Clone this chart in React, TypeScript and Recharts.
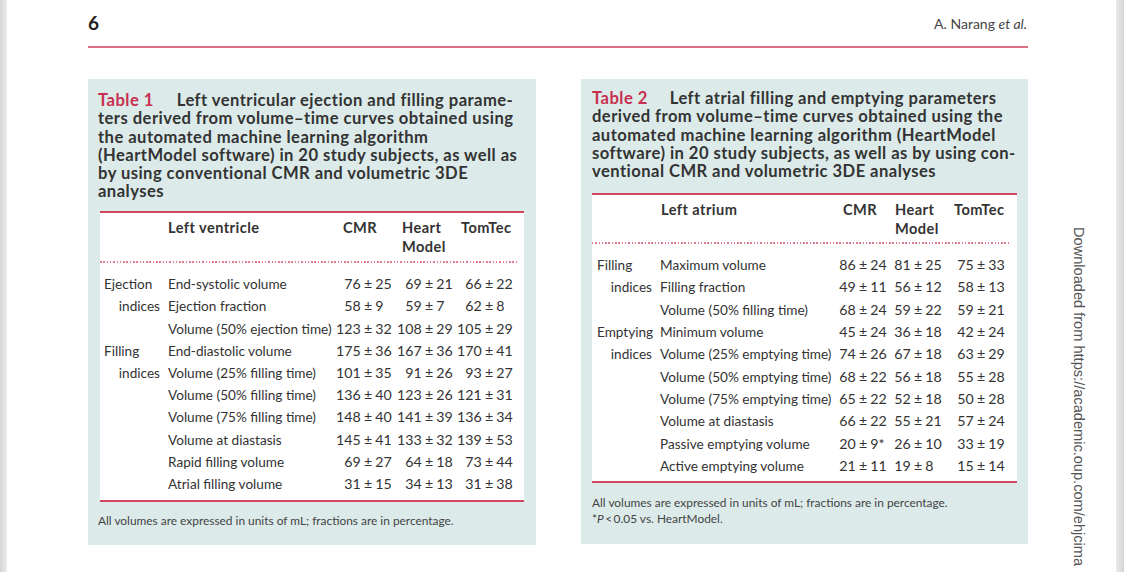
import React from 'react';
import { ScatterChart, Scatter, XAxis, YAxis } from 'recharts';

// ---------- Table 1 data ----------
const t1Groups = ['Ejection', 'indices', '', 'Filling', 'indices', '', '', '', '', ''];
const t1Params = [
  'End-systolic volume',
  'Ejection fraction',
  'Volume (50% ejection time)',
  'End-diastolic volume',
  'Volume (25% filling time)',
  'Volume (50% filling time)',
  'Volume (75% filling time)',
  'Volume at diastasis',
  'Rapid filling volume',
  'Atrial filling volume',
];
const t1CmrMean = [76, 58, 123, 175, 101, 136, 148, 145, 69, 31];
const t1CmrSd = [25, 9, 32, 36, 35, 40, 40, 41, 27, 15];
const t1HmMean = [69, 59, 108, 167, 91, 123, 141, 133, 64, 34];
const t1HmSd = [21, 7, 29, 36, 26, 26, 39, 32, 18, 13];
const t1TtMean = [66, 62, 105, 170, 93, 121, 136, 139, 73, 31];
const t1TtSd = [22, 8, 29, 41, 27, 31, 34, 53, 44, 38];

// ---------- Table 2 data ----------
const t2Groups = ['Filling', 'indices', '', 'Emptying', 'indices', '', '', '', '', ''];
const t2Params = [
  'Maximum volume',
  'Filling fraction',
  'Volume (50% filling time)',
  'Minimum volume',
  'Volume (25% emptying time)',
  'Volume (50% emptying time)',
  'Volume (75% emptying time)',
  'Volume at diastasis',
  'Passive emptying volume',
  'Active emptying volume',
];
const t2CmrMean = [86, 49, 68, 45, 74, 68, 65, 66, 20, 21];
const t2CmrSd = [24, 11, 24, 24, 26, 22, 22, 22, 9, 11];
const t2CmrMark = ['', '', '', '', '', '', '', '', '*', ''];
const t2HmMean = [81, 56, 59, 36, 67, 56, 52, 55, 26, 19];
const t2HmSd = [25, 12, 22, 18, 18, 18, 18, 21, 10, 8];
const t2TtMean = [75, 58, 59, 42, 63, 55, 50, 57, 33, 15];
const t2TtSd = [33, 13, 21, 24, 29, 28, 28, 24, 19, 14];

const columnHeaders = ['CMR', 'Heart', 'TomTec'];

const t1TitleLines = [
  'ters derived from volume\u2013time curves obtained using',
  'the automated machine learning algorithm',
  '(HeartModel software) in 20 study subjects, as well as',
  'by using conventional CMR and volumetric 3DE',
  'analyses',
];
const t2TitleLines = [
  'derived from volume\u2013time curves obtained using the',
  'automated machine learning algorithm (HeartModel',
  'software) in 20 study subjects, as well as by using con-',
  'ventional CMR and volumetric 3DE analyses',
];

const FONT = 'Lato, "Open Sans", sans-serif';
const TEXT = '#333333';
const RED = '#c8304f';
const RULE = '#d2465f';
const BOX = '#dcebea';

type Row = {
  param: string;
  group: string;
  x: number;
  vals: { mean: number; sd: number; mark: string }[];
};

function buildRows(
  params: string[],
  groups: string[],
  means: number[][],
  sds: number[][],
  marks: string[][]
): Row[] {
  return params.map((p, i) => ({
    param: p,
    group: groups[i],
    x: 0,
    vals: means.map((m, c) => ({ mean: m[i], sd: sds[c][i], mark: marks[c] ? marks[c][i] || '' : '' })),
  }));
}

const t1Rows = buildRows(
  t1Params,
  t1Groups,
  [t1CmrMean, t1HmMean, t1TtMean],
  [t1CmrSd, t1HmSd, t1TtSd],
  [[], [], []]
);
const t2Rows = buildRows(
  t2Params,
  t2Groups,
  [t2CmrMean, t2HmMean, t2TtMean],
  [t2CmrSd, t2HmSd, t2TtSd],
  [t2CmrMark, [], []]
);

type Layout = {
  groupStart: number;
  groupEnd: number;
  paramX: number;
  pm: number[];
};

function renderRow(props: any, lay: Layout) {
  const { cx, cy, payload } = props;
  if (cx == null || cy == null) return <g />;
  const r: Row = payload;
  const by = cy + 5;
  const common = { fontFamily: FONT, fontSize: 13.6, fill: TEXT } as any;
  const num = { fontFamily: FONT, fontSize: 14.2, fill: TEXT } as any;
  return (
    <g>
      {r.group ? (
        <text
          {...common}
          x={r.group === 'indices' ? cx + lay.groupEnd : cx + lay.groupStart}
          y={by}
          textAnchor={r.group === 'indices' ? 'end' : 'start'}
        >
          {r.group}
        </text>
      ) : null}
      <text {...common} x={cx + lay.paramX} y={by}>
        {r.param}
      </text>
      {r.vals.map((v, c) => (
        <g key={c}>
          <text {...num} x={cx + lay.pm[c] - 7.2} y={by} textAnchor="end">
            {String(v.mean)}
          </text>
          <text {...num} x={cx + lay.pm[c]} y={by} textAnchor="middle">
            {'\u00b1'}
          </text>
          <text {...num} x={cx + lay.pm[c] + 7.2} y={by} textAnchor="start">
            {String(v.sd) + v.mark}
          </text>
        </g>
      ))}
    </g>
  );
}

function TableRows({
  rows,
  width,
  height,
  top,
  bottom,
  lay,
}: {
  rows: Row[];
  width: number;
  height: number;
  top: number;
  bottom: number;
  lay: Layout;
}) {
  return (
    <ScatterChart width={width} height={height} margin={{ top, bottom, left: 0, right: 0 }}>
      <XAxis type="number" dataKey="x" domain={[0, 1]} hide />
      <YAxis type="category" dataKey="param" hide width={0} reversed />
      <Scatter data={rows} isAnimationActive={false} shape={(p: any) => renderRow(p, lay)} />
    </ScatterChart>
  );
}

const abs = (o: React.CSSProperties): React.CSSProperties => ({ position: 'absolute', ...o });

const dotted = (left: number, top: number, width: number) => (
  <div
    style={abs({
      left,
      top,
      width,
      height: 1.5,
      background: 'repeating-linear-gradient(to right, #e07b90 0px, #e07b90 1.5px, transparent 1.5px, transparent 3.3px)',
    })}
  />
);

export default function App() {
  const hdr: React.CSSProperties = {
    fontFamily: FONT,
    fontWeight: 700,
    fontSize: 14.6,
    letterSpacing: 0.45,
    color: TEXT,
    lineHeight: '19px',
    whiteSpace: 'nowrap',
  };
  const title: React.CSSProperties = {
    fontFamily: FONT,
    fontWeight: 700,
    fontSize: 16.6,
    letterSpacing: 0.45,
    color: TEXT,
    lineHeight: '18.3px',
    whiteSpace: 'nowrap',
  };
  const foot: React.CSSProperties = { fontFamily: FONT, fontSize: 11.9, color: '#444', whiteSpace: 'nowrap', lineHeight: '16px' };
  return (
    <div
      style={{
        position: 'fixed',
        left: 0,
        top: 0,
        width: 1124,
        height: 572,
        background: '#ffffff',
        overflow: 'hidden',
        fontFamily: FONT,
        color: TEXT,
      }}
    >
      <div style={abs({ left: 0, top: 0, width: 7, height: 572, background: 'linear-gradient(to right,#d6d6d6,#ececec)' })} />
      <div style={abs({ left: 1116, top: 0, width: 8, height: 572, background: 'linear-gradient(to right,#ececec,#d4d4d4)' })} />

      {/* running head */}
      <div style={abs({ left: 88, top: 11, fontFamily: FONT, fontWeight: 700, fontSize: 19, color: '#222' })}>6</div>
      <div style={abs({ right: 97, top: 15, fontFamily: FONT, fontSize: 14, color: '#444', whiteSpace: 'nowrap' })}>
        A. Narang <i>et al.</i>
      </div>
      <div style={abs({ left: 88, top: 46, width: 940, height: 2, background: '#dc6f83' })} />

      {/* Table 1 box */}
      <div style={abs({ left: 88, top: 79, width: 448, height: 466, background: BOX })} />
      <div style={abs({ left: 98, top: 91, ...title })}>
        <div>
          <span style={{ color: RED }}>Table 1</span>
          <span style={{ display: 'inline-block', width: 23 }} />
          Left ventricular ejection and filling parame-
        </div>
        {t1TitleLines.map((l, i) => (
          <div key={i}>{l}</div>
        ))}
      </div>
      <div style={abs({ left: 100, top: 212, width: 424, height: 289, background: '#fff' })} />
      <div style={abs({ left: 100, top: 211, width: 424, height: 2, background: RULE })} />
      <div style={abs({ left: 100, top: 500, width: 424, height: 2, background: RULE })} />
      <div style={abs({ left: 168, top: 218, ...hdr })}>Left ventricle</div>
      <div style={abs({ left: 343, top: 218, ...hdr })}>{columnHeaders[0]}</div>
      <div style={abs({ left: 402, top: 218, ...hdr })}>
        {columnHeaders[1]}
        <br />
        Model
      </div>
      <div style={abs({ left: 461, top: 218, ...hdr })}>{columnHeaders[2]}</div>
      {dotted(100, 261, 419)}
      <div style={abs({ left: 100, top: 262 })}>
        <TableRows
          rows={t1Rows}
          width={424}
          height={238}
          top={11}
          bottom={5}
          lay={{ groupStart: 4, groupEnd: 60, paramX: 68, pm: [268, 329, 389] }}
        />
      </div>
      <div style={abs({ left: 98, top: 513, ...foot })}>
        All volumes are expressed in units of mL; fractions are in percentage.
      </div>

      {/* Table 2 box */}
      <div style={abs({ left: 581, top: 79, width: 447, height: 465, background: BOX })} />
      <div style={abs({ left: 592, top: 89, ...title })}>
        <div>
          <span style={{ color: RED }}>Table 2</span>
          <span style={{ display: 'inline-block', width: 22 }} />
          Left atrial filling and emptying parameters
        </div>
        {t2TitleLines.map((l, i) => (
          <div key={i}>{l}</div>
        ))}
      </div>
      <div style={abs({ left: 592, top: 194, width: 425, height: 288, background: '#fff' })} />
      <div style={abs({ left: 592, top: 193, width: 425, height: 2, background: RULE })} />
      <div style={abs({ left: 592, top: 481, width: 425, height: 2, background: RULE })} />
      <div style={abs({ left: 661, top: 200, ...hdr })}>Left atrium</div>
      <div style={abs({ left: 843, top: 200, ...hdr })}>{columnHeaders[0]}</div>
      <div style={abs({ left: 895, top: 200, ...hdr })}>
        {columnHeaders[1]}
        <br />
        Model
      </div>
      <div style={abs({ left: 954, top: 200, ...hdr })}>{columnHeaders[2]}</div>
      {dotted(592, 242, 419)}
      <div style={abs({ left: 592, top: 244 })}>
        <TableRows
          rows={t2Rows}
          width={425}
          height={238}
          top={10}
          bottom={5}
          lay={{ groupStart: 5, groupEnd: 60, paramX: 68, pm: [271, 326, 389] }}
        />
      </div>
      <div style={abs({ left: 592, top: 495, ...foot })}>
        All volumes are expressed in units of mL; fractions are in percentage.
        <br />
        *<i>P</i>&thinsp;&lt;&thinsp;0.05 vs. HeartModel.
      </div>

      {/* vertical download note */}
      <div
        style={abs({
          left: 1071,
          top: 227,
          writingMode: 'vertical-rl',
          fontFamily: '"Liberation Sans", Arial, sans-serif',
          fontSize: 14.6,
          color: '#555',
          whiteSpace: 'nowrap',
        })}
      >
        Downloaded from https://academic.oup.com/ehjcima
      </div>
    </div>
  );
}
